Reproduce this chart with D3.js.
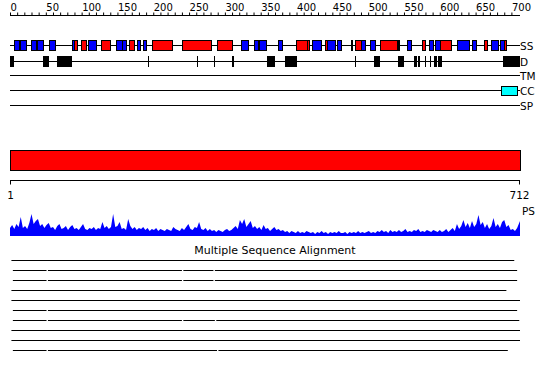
<!DOCTYPE html>
<html><head><meta charset="utf-8">
<script src="https://cdn.jsdelivr.net/npm/d3@7"></script>
<style>
body{margin:0;background:#fff}
svg{display:block}
text{font-family:"DejaVu Sans",sans-serif;fill:#000}
</style>
</head><body>
<svg id="chart" width="550" height="380"></svg>
<script>
// ---------------- DATA ----------------
const seqLength = 712;
const axisTicks = [0,50,100,150,200,250,300,350,400,450,500,550,600,650,700];
const trackNames = ["SS","D","TM","CC","SP"];

// Secondary structure (H = helix, red; E = strand, blue)
const ssStart = [5,14,29,38,55,86,89,99,109,127,148,157,166,177,186,198,240,289,323,340,348,374,399,415,421,440,443,456,476,482,490,502,516,542,554,575,585,594,600,624,645,662,671,684,689];
const ssEnd   = [12,22,36,46,63,89,94,106,120,140,157,162,173,181,190,226,281,310,332,346,357,380,415,418,434,443,454,462,478,490,496,509,540,543,560,580,590,600,616,641,651,666,681,689,692];
const ssType  = ["E","E","E","E","E","E","H","H","E","H","E","E","H","E","E","H","H","H","E","E","E","E","H","H","E","H","E","E","E","H","E","E","H","E","E","H","E","E","H","E","E","H","E","E","H"];

// Disorder
const disStart = [0,46,66,192,261,285,310,359,384,482,508,542,564,570,580,587,592,598,688];
const disEnd   = [5,55,87,193,262,286,313,370,401,483,516,550,568,573,581,588,596,603,712];

// Transmembrane / coiled coil / signal peptide
const tmStart = [], tmEnd = [];
const ccStart = [685], ccEnd = [708];
const spStart = [], spEnd = [];

// Domain bar and sequence range
const domainStart = [1], domainEnd = [712];
const rangeTicks = [1, 712];

// PS profile, one value every psStep residues starting at residue 0
const psStep = 3;
const psValues = [
  8,11,7,12,9,19,8,10,7,13,22,12,15,17,10,12,8,11,13,8,
  9,6,10,12,7,8,10,6,9,11,7,8,6,9,12,7,6,8,7,9,
  6,8,7,14,8,10,7,9,22,9,10,14,7,8,6,17,10,7,9,6,
  8,7,9,6,8,5,7,6,8,5,7,6,5,7,6,5,9,7,6,5,
  8,6,9,12,7,6,9,8,14,7,6,8,5,7,5,6,4,6,5,4,
  6,7,5,6,8,10,7,16,12,17,9,12,15,8,10,7,9,6,11,7,
  8,5,7,9,6,7,5,6,4,5,3,5,4,3,5,3,4,3,5,4,
  3,4,2,4,3,5,3,4,2,4,3,4,3,5,3,3,4,2,4,3,
  4,3,5,3,4,3,4,5,3,4,3,5,4,6,4,5,3,6,4,5,
  4,6,4,5,7,4,5,4,6,5,7,4,5,4,6,5,4,6,5,4,
  6,4,5,7,4,6,8,5,12,7,10,16,9,13,8,15,9,12,21,11,
  14,8,12,7,10,18,9,12,8,14,16,9,11,6,7,5,8,15];

// Multiple sequence alignment rows: aligned segments [start, end]
const msaTitle = "Multiple Sequence Alignment";
const msaRows = [
  [[2,704]],
  [[4,51],[53,240],[242,284],[286,708]],
  [[4,51],[53,240],[242,284],[286,708]],
  [[2,693]],
  [[2,712]],
  [[4,51],[53,708]],
  [[4,51],[53,240],[242,286],[288,711]],
  [[2,712]],
  [[2,712]],
  [[4,51],[53,289],[291,695]]
];

// ---------------- DRAW ----------------
const svg = d3.select("#chart");
const x = d3.scaleLinear().domain([0, seqLength]).range([10, 520]);
const colorSS = d3.scaleOrdinal().domain(["H","E"]).range(["#ff0000","#0000ff"]);

// top ruler
const topAxis = d3.axisTop(x)
  .tickValues(d3.range(0, 701, 10))
  .tickSize(3).tickSizeOuter(0).tickPadding(2)
  .tickFormat(d => axisTicks.includes(d) ? d : "");
const gTop = svg.append("g").attr("transform","translate(0,15.5)").call(topAxis);
gTop.select(".domain").attr("stroke","#000").attr("d", `M${x(0)},0H${x(seqLength)}`);
gTop.selectAll(".tick line").attr("stroke","#000");
gTop.selectAll(".tick text").attr("text-anchor","start").attr("x",0)
  .style("font-size","10px").style("font-family","DejaVu Sans");

// tracks
const trackY = {SS:45, D:61, TM:75, CC:90, SP:105};
trackNames.forEach(n => {
  const yv = trackY[n] + 0.5;
  svg.append("line").attr("x1", x(0)).attr("x2", x(seqLength))
    .attr("y1", yv).attr("y2", yv).attr("stroke","#000");
  svg.append("text").attr("x", x(seqLength)).attr("y", trackY[n] + 4.5)
    .style("font-size","10.5px").text(n);
});

// SS boxes
const ss = ssStart.map((s,i) => ({s, e: ssEnd[i], t: ssType[i]}));
svg.append("g").selectAll("rect").data(ss).join("rect")
  .attr("x", d => Math.round(x(d.s)) + 0.5)
  .attr("width", d => Math.max(1, Math.round(x(d.e)) - Math.round(x(d.s))))
  .attr("y", trackY.SS - 4.5).attr("height", 10)
  .attr("fill", d => colorSS(d.t)).attr("stroke","#000");

// Disorder boxes
const dis = disStart.map((s,i) => ({s, e: disEnd[i]}));
svg.append("g").selectAll("rect").data(dis).join("rect")
  .attr("x", d => Math.round(x(d.s)))
  .attr("width", d => Math.max(1, Math.round(x(d.e)) - Math.round(x(d.s))))
  .attr("y", trackY.D - 5).attr("height", 11)
  .attr("fill", "#000");

// CC boxes (TM and SP have none)
const cc = ccStart.map((s,i) => ({s, e: ccEnd[i]}));
svg.append("g").selectAll("rect").data(cc).join("rect")
  .attr("x", d => Math.round(x(d.s)) + 0.5)
  .attr("width", d => Math.round(x(d.e)) - Math.round(x(d.s)))
  .attr("y", trackY.CC - 3.5).attr("height", 9)
  .attr("fill", "#00ffff").attr("stroke","#000");

// Domain bar
const dom = domainStart.map((s,i) => ({s, e: domainEnd[i]}));
svg.append("g").selectAll("rect").data(dom).join("rect")
  .attr("x", d => x(d.s - 1) + 0.5).attr("width", d => x(d.e) - x(d.s - 1))
  .attr("y", 150.5).attr("height", 20)
  .attr("fill", "#ff0000").attr("stroke","#000");

// range axis
const botAxis = d3.axisBottom(x).tickValues(rangeTicks).tickSize(4).tickSizeOuter(0).tickPadding(7);
const gBot = svg.append("g").attr("transform","translate(0,180.5)").call(botAxis);
gBot.select(".domain").attr("stroke","#000").attr("d", `M${x(0)},0H${x(seqLength)}`);
gBot.selectAll(".tick line").attr("stroke","#000");
gBot.selectAll(".tick text").style("font-size","10.5px").style("font-family","DejaVu Sans");
gBot.selectAll(".tick").attr("transform", d => `translate(${d === 1 ? x(0) + 0.5 : x(d) - 0.5},0)`);

// PS profile
const y = d3.scaleLinear().domain([0, 25]).range([236, 211]);
const ps = psValues.map((v,i) => ({p: Math.min(i * psStep, seqLength), v}));
ps[ps.length - 1].p = seqLength;
svg.append("path").datum(ps)
  .attr("d", d3.area().x(d => x(d.p)).y0(y(0)).y1(d => y(d.v)))
  .attr("fill", "#0000ff");
svg.append("text").attr("x", x(seqLength) + 2).attr("y", 215)
  .style("font-size","10.5px").text("PS");

// MSA
svg.append("text").attr("x", 275).attr("y", 254).attr("text-anchor","middle")
  .style("font-size","11px").text(msaTitle);
msaRows.forEach((row, r) => {
  const yy = 260.5 + r * 10;
  svg.append("g").selectAll("line").data(row).join("line")
    .attr("x1", d => x(d[0])).attr("x2", d => x(d[1]))
    .attr("y1", yy).attr("y2", yy).attr("stroke", "#000");
});
</script>
</body></html>
